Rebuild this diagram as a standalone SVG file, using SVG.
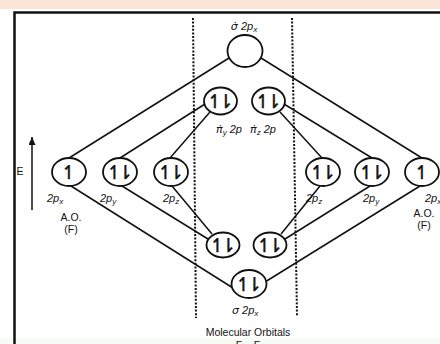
<svg xmlns="http://www.w3.org/2000/svg" width="440" height="344" viewBox="0 0 440 344">
<style>
.orb{fill:#fff;stroke:#111;stroke-width:1.8}
.ln{stroke:#111;stroke-width:1.5;fill:none}
.dot{stroke:#111;stroke-width:2;stroke-dasharray:2 1.6;fill:none}
.el{font-family:"DejaVu Sans",sans-serif;font-size:19px;fill:#111;stroke:#111;stroke-width:0.4;text-anchor:middle;letter-spacing:-5px}
.el1{font-family:"DejaVu Sans",sans-serif;font-size:19px;fill:#111;stroke:#111;stroke-width:0.4;text-anchor:middle}
.lb{font-family:"Liberation Sans",Arial,sans-serif;font-size:11px;font-style:italic;fill:#111}
.gk{font-family:"DejaVu Sans",sans-serif;font-style:italic}
.ao{font-family:"Liberation Sans",Arial,sans-serif;font-size:10.5px;fill:#111;text-anchor:middle}
.sub{font-size:8px}
</style>
<defs>
<marker id="ah" markerWidth="9" markerHeight="8" refX="8" refY="3.5" orient="auto" markerUnits="userSpaceOnUse">
<path d="M0,0 L8,3.5 L0,7 Z" fill="#111"/>
</marker>
</defs>
<rect x="0" y="0" width="440" height="344" fill="#fff"/>
<rect x="0" y="0" width="440" height="9" fill="#fbe5d6"/>
<rect x="0" y="338" width="440" height="6" fill="#f6fbf3"/>
<path d="M14.5,344 V12.5 H440" stroke="#111" stroke-width="2.5" fill="none"/>
<g id="connectors">
<line class="dot" x1="193" y1="18" x2="196" y2="318"/>
<line class="dot" x1="292" y1="18" x2="297" y2="316"/>
<line class="ln" x1="69" y1="158" x2="229" y2="58"/>
<line class="ln" x1="422" y1="158" x2="261" y2="58"/>
<line class="ln" x1="71" y1="186" x2="233" y2="288"/>
<line class="ln" x1="420" y1="186" x2="265" y2="282"/>
<line class="ln" x1="120" y1="158" x2="205" y2="104"/>
<line class="ln" x1="170" y1="158" x2="210" y2="112"/>
<line class="ln" x1="372" y1="158" x2="284" y2="104"/>
<line class="ln" x1="322" y1="158" x2="280" y2="112"/>
<line class="ln" x1="122" y1="186" x2="208" y2="239"/>
<line class="ln" x1="172" y1="186" x2="212" y2="234"/>
<line class="ln" x1="370" y1="186" x2="285" y2="239"/>
<line class="ln" x1="320" y1="186" x2="281" y2="234"/>
<line class="ln" x1="32" y1="210" x2="32" y2="137" marker-end="url(#ah)"/>
</g>
<text class="ao" x="20" y="175">E</text>
<g id="sigma-star">
<ellipse class="orb" cx="245" cy="51" rx="17.5" ry="16"/>
<text class="lb" x="244" y="30" text-anchor="middle"><tspan class="gk">σ̇</tspan>  2p<tspan class="sub" dy="2">x</tspan></text>
</g>
<g id="pi-star-y">
<ellipse class="orb" cx="220.5" cy="101" rx="16.5" ry="13.5"/>
<text class="el" x="218" y="108">↿⇂</text>
<text class="lb" x="216" y="133"><tspan class="gk">π̇</tspan><tspan class="sub" dy="2">y</tspan><tspan dy="-2"> 2p</tspan></text>
</g>
<g id="pi-star-z">
<ellipse class="orb" cx="268.5" cy="101" rx="16.5" ry="13.5"/>
<text class="el" x="266" y="108">↿⇂</text>
<text class="lb" x="250" y="133"><tspan class="gk">π̇</tspan><tspan class="sub" dy="2">z</tspan><tspan dy="-2"> 2p</tspan></text>
</g>
<g id="ao-left-2px">
<ellipse class="orb" cx="69" cy="172" rx="17" ry="14"/>
<text class="el1" x="69" y="179">↿</text>
<text class="lb" x="47" y="202">2p<tspan class="sub" dy="2">x</tspan></text>
</g>
<g id="ao-left-2py">
<ellipse class="orb" cx="120" cy="172" rx="17" ry="14"/>
<text class="el" x="117.5" y="179">↿⇂</text>
<text class="lb" x="100" y="202">2p<tspan class="sub" dy="2">y</tspan></text>
</g>
<g id="ao-left-2pz">
<ellipse class="orb" cx="171" cy="172" rx="17" ry="14"/>
<text class="el" x="168.5" y="179">↿⇂</text>
<text class="lb" x="163" y="202">2p<tspan class="sub" dy="2">z</tspan></text>
</g>
<g id="ao-left-label">
<text class="ao" x="71" y="221">A.O.</text>
<text class="ao" x="71" y="233">(F)</text>
</g>
<g id="ao-right-2pz">
<ellipse class="orb" cx="323" cy="172" rx="17" ry="14"/>
<text class="el" x="320.5" y="179">↿⇂</text>
<text class="lb" x="306" y="202">2p<tspan class="sub" dy="2">z</tspan></text>
</g>
<g id="ao-right-2py">
<ellipse class="orb" cx="372" cy="172" rx="17" ry="14"/>
<text class="el" x="369.5" y="179">↿⇂</text>
<text class="lb" x="363" y="202">2p<tspan class="sub" dy="2">y</tspan></text>
</g>
<g id="ao-right-2px">
<ellipse class="orb" cx="422" cy="172" rx="17" ry="14"/>
<text class="el1" x="422" y="179">↿</text>
<text class="lb" x="425" y="202">2p<tspan class="sub" dy="2">x</tspan></text>
</g>
<g id="ao-right-label">
<text class="ao" x="424" y="217">A.O.</text>
<text class="ao" x="424" y="229">(F)</text>
</g>
<g id="pi-y">
<ellipse class="orb" cx="223" cy="245" rx="16.5" ry="12.5"/>
<text class="el" x="220.5" y="252">↿⇂</text>
</g>
<g id="pi-z">
<ellipse class="orb" cx="270" cy="245" rx="16.5" ry="12.5"/>
<text class="el" x="267.5" y="252">↿⇂</text>
</g>
<g id="sigma">
<ellipse class="orb" cx="249" cy="284" rx="17.5" ry="14"/>
<text class="el" x="246.5" y="291">↿⇂</text>
<text class="lb" x="232" y="314"><tspan class="gk">σ</tspan>  2p<tspan class="sub" dy="2">x</tspan></text>
</g>
<g id="mo-label">
<text class="ao" x="248" y="336" font-size="11">Molecular Orbitals</text>
<text class="ao" x="248" y="349" font-size="11">F – F</text>
</g>
</svg>
